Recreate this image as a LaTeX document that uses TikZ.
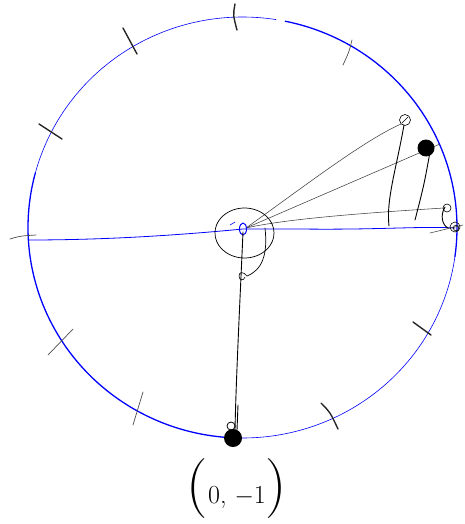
\documentclass[tikz,border=0pt]{standalone}
\begin{document}
\begin{tikzpicture}[x=1pt,y=-1pt,line cap=round,line join=round,
  thinblue/.style={blue,line width=0.6pt},
  thickblue/.style={blue,line width=1.3pt},
  tick/.style={black!85,line width=1.4pt},
  thintick/.style={black!70,line width=0.7pt},
  spoke/.style={black!75,line width=0.55pt},
  pen/.style={black,line width=0.9pt}]
\useasboundingbox (0,0) rectangle (465,524);
% big circle
\draw[thickblue] plot[smooth,domain=-78.5:8,samples=60] ({242.5+214.5*cos(\x)},{227.5+210.5*sin(\x)});
\draw[thinblue] plot[smooth,domain=8:95,samples=60] ({242.5+214.5*cos(\x)},{227.5+210.5*sin(\x)});
\draw[thickblue] plot[smooth,domain=95:195,samples=60] ({242.5+214.5*cos(\x)},{227.5+210.5*sin(\x)});
\draw[thinblue] plot[smooth,domain=195:279,samples=60] ({242.5+214.5*cos(\x)},{227.5+210.5*sin(\x)});
% ticks
\draw[tick] (235,4) .. controls (233,15) .. (237,30);
\draw[tick] (123,28) -- (137,54);
\draw[thintick] (352,40) .. controls (349,52) .. (343,65);
\draw[tick] (39,124) -- (62,139);
\draw[thintick] (10,239) .. controls (20,236) .. (36,235);
\draw[thintick] (48,355) -- (73,329);
\draw[thintick] (133,425) -- (143,392);
\draw[tick] (413,322) -- (431,335);
\draw[tick] (321,403) .. controls (330,412) .. (338,429);
% horizontal diameter
\draw[thinblue,line width=0.8pt] (28,240) .. controls (100,240) and (170,236) .. (243,229) -- (300,229) .. controls (380,230) and (420,226) .. (455,228);
% spokes
\draw[spoke] (246,228) .. controls (310,182) and (365,140) .. (401,124);
\draw[spoke] (246,228) -- (440,144);
\draw[spoke] (246,228) .. controls (290,218) and (380,212) .. (444,208);
\draw[spoke] (430,233) -- (463,225);
% verticals
\draw[pen] (404,125) .. controls (396,170) and (386,200) .. (389,226);
\draw[pen] (430,152) .. controls (424,185) .. (415,220);
\draw[pen] (445,207) .. controls (440,215) and (442,225) .. (448,228);
% markers
\draw[black,line width=0.6pt] (405,120) circle[radius=5.5pt];
\draw[black,line width=0.5pt] (402,123) -- (408,117);
\fill[black] (426,148) circle[radius=8.5pt];
\draw[black,line width=0.6pt] (447,208) circle[radius=4pt];
\draw[black,line width=0.6pt] (455,227) circle[radius=5pt];
\draw[black,line width=0.6pt] (456,228) circle[radius=2.8pt];
% centre
\draw[blue,line width=1pt] (243,229) ellipse[x radius=3.5pt,y radius=6pt];
\draw[blue,line width=0.6pt] (230,225) -- (235,222);
\draw[pen,line width=0.7pt] plot[smooth cycle,domain=0:350,samples=36] ({244.5+29.5*cos(\x)},{233+25*sin(\x)});
\draw[pen,line width=0.7pt] (265,228) .. controls (268,255) and (262,270) .. (247,276);
\draw[pen,line width=0.6pt] (247,276) .. controls (244,272) and (239,271) .. (239,276) .. controls (239,281) and (244,281) .. (245,277);
% vertical radius
\draw[pen] (243,232) .. controls (240,300) and (236,380) .. (235,430);
\draw[pen] (238,405) -- (237,430);
\fill[black] (233,438) circle[radius=9pt];
\draw[black,line width=0.8pt] (231,426) circle[radius=4pt];
% label
\node[anchor=base,inner sep=0pt] (lbl) at (237,503) {{\fontsize{60}{60}\selectfont(}{\fontsize{26}{26}\selectfont 0, $-$1}{\fontsize{60}{60}\selectfont)}};
\end{tikzpicture}
\end{document}
